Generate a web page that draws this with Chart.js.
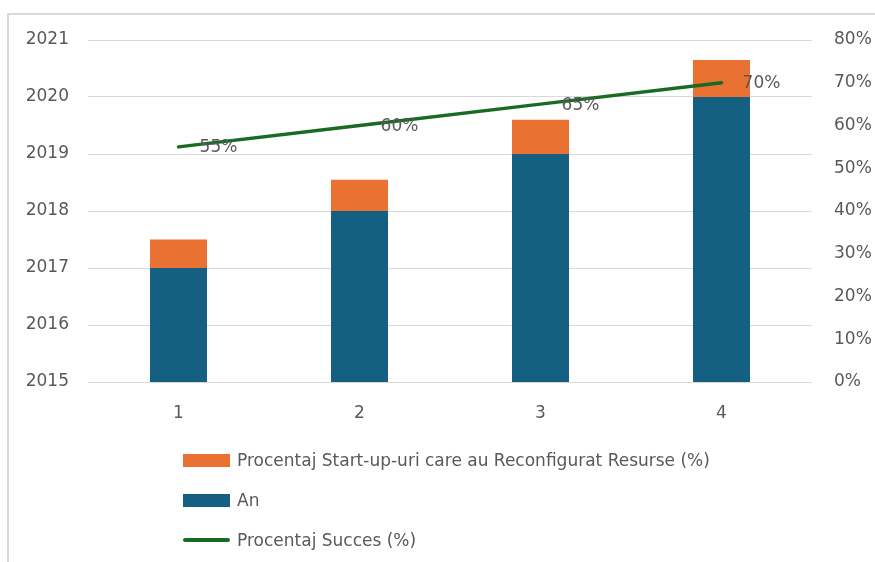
<!DOCTYPE html>
<html>
<head>
<meta charset="utf-8">
<script src="https://cdn.jsdelivr.net/npm/chart.js@4.4.0/dist/chart.umd.js"></script>
<style>
  html, body { margin: 0; padding: 0; background: #ffffff; }
  #wrap { position: relative; width: 875px; height: 562px; overflow: hidden; }
  #frame { position: absolute; left: 7px; top: 13px; width: 900px; height: 600px;
           border-left: 2px solid #d9d9d9; border-top: 2px solid #d9d9d9; }
  #chart { position: absolute; left: 0; top: 0; }
  #legend { position: absolute; left: 183px; top: 440px; font-family: 'DejaVu Sans', sans-serif;
            font-size: 17px; color: #595959; }
  .item { display: flex; align-items: center; height: 40px; }
  .swatch { width: 47px; margin-right: 7px; }
</style>
</head>
<body>
<div id="wrap">
  <div id="frame"></div>
  <canvas id="chart" width="875" height="562"></canvas>
  <div id="legend"></div>
</div>
<script>
// chart values
const categories = ['1', '2', '3', '4'];
const anValues = [2017, 2018, 2019, 2020];
const reconfigValues = [0.5, 0.55, 0.6, 0.65];
const successValues = [55, 60, 65, 70];
const yearTicks = [2015, 2016, 2017, 2018, 2019, 2020, 2021];
const percentTicks = [0, 10, 20, 30, 40, 50, 60, 70, 80];

const textColor = '#595959';
const gridColor = '#d9d9d9';
const tickFont = { family: 'DejaVu Sans, sans-serif', size: 17 };

// percent labels to the right of each line point
const lineLabels = {
    id: 'lineLabels',
    afterDatasetsDraw(chart) {
        const meta = chart.getDatasetMeta(2);
        const ctx = chart.ctx;
        ctx.save();
        ctx.font = '17px DejaVu Sans, sans-serif';
        ctx.fillStyle = textColor;
        ctx.textAlign = 'center';
        ctx.textBaseline = 'middle';
        meta.data.forEach((pt, i) => {
            ctx.fillText(successValues[i] + '%', pt.x + 40, pt.y + 1);
        });
        ctx.restore();
    }
};

const chart = new Chart(document.getElementById('chart'), {
    type: 'bar',
    data: {
        labels: categories,
        datasets: [
            {
                label: 'An',
                data: anValues,
                backgroundColor: '#156082',
                yAxisID: 'y',
                order: 1
            },
            {
                label: 'Procentaj Start-up-uri care au Reconfigurat Resurse (%)',
                data: reconfigValues,
                backgroundColor: '#E97132',
                yAxisID: 'y',
                order: 1
            },
            {
                type: 'line',
                label: 'Procentaj Succes (%)',
                data: successValues,
                borderColor: '#196B24',
                borderWidth: 3.5,
                pointRadius: 0,
                borderCapStyle: 'round',
                yAxisID: 'y1',
                order: 0
            }
        ]
    },
    options: {
        responsive: false,
        animation: false,
        layout: { padding: { left: 0, right: 0, top: 40, bottom: 130 } },
        datasets: { bar: { categoryPercentage: 1, barPercentage: 0.315 } },
        plugins: { legend: { display: false }, tooltip: { enabled: false } },
        scales: {
            x: {
                stacked: true,
                grid: { display: false },
                border: { display: false },
                ticks: { color: textColor, font: tickFont, padding: 13 },
                afterFit(s) { s.height = 50; }
            },
            y: {
                stacked: true,
                min: 2015,
                max: 2021,
                afterBuildTicks(s) { s.ticks = yearTicks.map(v => ({ value: v })); },
                grid: { color: gridColor, lineWidth: 1, drawTicks: false },
                border: { display: false },
                ticks: { color: textColor, font: tickFont, padding: 19, callback: v => String(v) },
                afterFit(s) { s.width = 88; }
            },
            y1: {
                position: 'right',
                min: 0,
                max: 80,
                afterBuildTicks(s) { s.ticks = percentTicks.map(v => ({ value: v })); },
                grid: { display: false },
                border: { display: false },
                ticks: { color: textColor, font: tickFont, padding: 14, callback: v => v + '%' },
                afterFit(s) { s.width = 63; }
            }
        }
    },
    plugins: [lineLabels]
});

// legend in the reference order: orange, blue, line
const legendEl = document.getElementById('legend');
[1, 0, 2].forEach(i => {
    const ds = chart.data.datasets[i];
    const row = document.createElement('div');
    row.className = 'item';
    const sw = document.createElement('div');
    sw.className = 'swatch';
    if (ds.type === 'line') {
        sw.style.height = '4px';
        sw.style.background = ds.borderColor;
        sw.style.borderRadius = '2px';
    } else {
        sw.style.height = '13px';
        sw.style.background = ds.backgroundColor;
    }
    const label = document.createElement('span');
    label.textContent = ds.label;
    row.appendChild(sw);
    row.appendChild(label);
    legendEl.appendChild(row);
});
</script>
</body>
</html>
